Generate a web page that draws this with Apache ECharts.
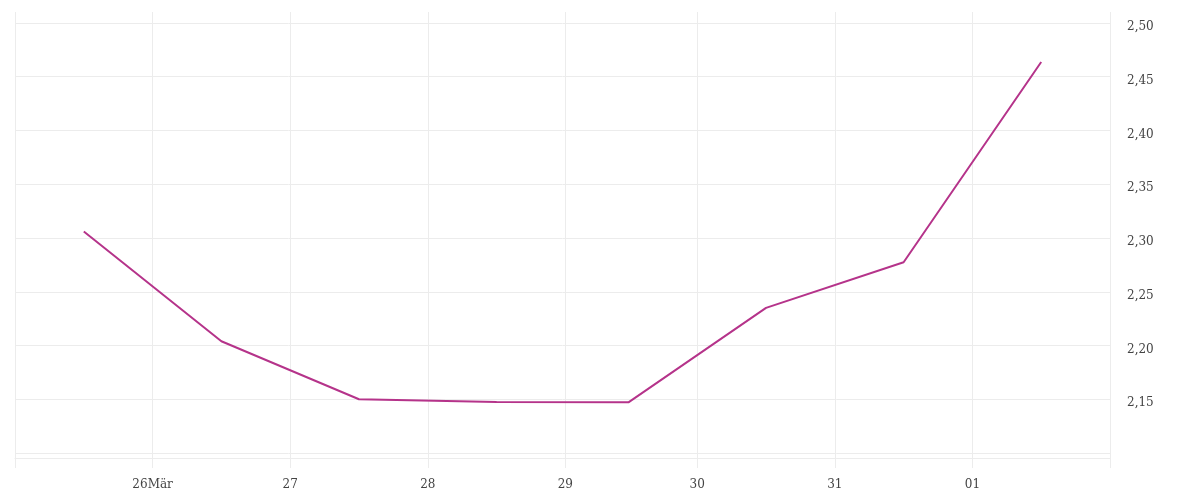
<!DOCTYPE html>
<html>
<head>
<meta charset="utf-8">
<script src="https://cdn.jsdelivr.net/npm/echarts@6/dist/echarts.min.js"></script>
<style>
  html, body { margin: 0; padding: 0; background: #fff; }
  #chart { width: 1200px; height: 500px; }
</style>
</head>
<body>
<div id="chart"></div>
<script>
// Kurs je Tag (Mittag, Ortszeit Berlin)
const pointTimes = [
  "2026-03-25T12:00:00+01:00",
  "2026-03-26T12:00:00+01:00",
  "2026-03-27T12:00:00+01:00",
  "2026-03-28T12:00:00+01:00",
  "2026-03-29T12:00:00+02:00",
  "2026-03-30T12:00:00+02:00",
  "2026-03-31T12:00:00+02:00",
  "2026-04-01T12:00:00+02:00"
];
const prices = [2.306, 2.204, 2.150, 2.1475, 2.1472, 2.235, 2.2775, 2.4637];

// Tagesgrenzen (Mitternacht Ortszeit) und ihre Beschriftungen
const dayStarts = [
  "2026-03-25T00:00:00+01:00",
  "2026-03-26T00:00:00+01:00",
  "2026-03-27T00:00:00+01:00",
  "2026-03-28T00:00:00+01:00",
  "2026-03-29T00:00:00+01:00",
  "2026-03-30T00:00:00+02:00",
  "2026-03-31T00:00:00+02:00",
  "2026-04-01T00:00:00+02:00",
  "2026-04-02T00:00:00+02:00"
];
const dayLabels = ["", "26Mär", "27", "28", "29", "30", "31", "01", ""];

const yLabelValues = [2.15, 2.20, 2.25, 2.30, 2.35, 2.40, 2.45, 2.50];

const dayMs = dayStarts.map(d => Date.parse(d));
const seriesData = pointTimes.map((t, i) => [Date.parse(t), prices[i]]);

const gridColor = "#ececec";
const textStyle = { color: "#444", fontFamily: "DejaVu Serif", fontSize: 12 };

const chart = echarts.init(document.getElementById("chart"), null, { renderer: "canvas" });
chart.setOption({
  animation: false,
  grid: { left: 15, right: 90, top: 12, bottom: 42, containLabel: false },
  xAxis: {
    type: "value",
    min: dayMs[0],
    max: dayMs[dayMs.length - 1],
    axisLine: { show: true, lineStyle: { color: gridColor, width: 1 } },
    axisTick: { show: true, length: 10, lineStyle: { color: gridColor }, customValues: dayMs },
    splitLine: { show: true, lineStyle: { color: gridColor, width: 1 } },
    axisLabel: Object.assign({
      margin: 21,
      customValues: dayMs,
      formatter: function (v) {
        const i = dayMs.indexOf(v);
        return i >= 0 ? dayLabels[i] : "";
      }
    }, textStyle)
  },
  yAxis: {
    type: "value",
    position: "right",
    min: 2.0954,
    max: 2.5102,
    splitNumber: 8,
    axisLine: { show: false },
    axisTick: { show: false },
    splitLine: { show: true, showMaxLine: false, lineStyle: { color: gridColor, width: 1 } },
    axisLabel: Object.assign({
      margin: 17,
      customValues: yLabelValues,
      formatter: function (v) { return "{p|" + v.toFixed(2).replace(".", ",") + "}"; },
      rich: { p: Object.assign({ padding: [8, 0, 0, 0] }, textStyle) }
    }, textStyle)
  },
  series: [{
    type: "line",
    data: seriesData,
    showSymbol: false,
    lineStyle: { color: "#b5338a", width: 2 },
    itemStyle: { color: "#b5338a" }
  }]
});
</script>
</body>
</html>
